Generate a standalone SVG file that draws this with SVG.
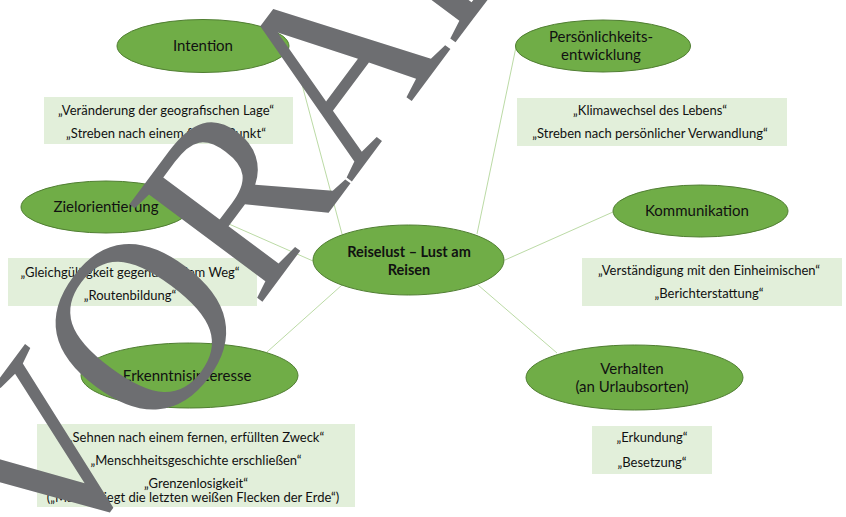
<svg xmlns="http://www.w3.org/2000/svg" width="846" height="517" viewBox="0 0 846 517">
<style>
.node ellipse{fill:#70ad47;stroke:#507e32;stroke-width:1}
.lbl{font-family:Lato,"Open Sans",sans-serif;font-size:15px;fill:#111;text-anchor:middle}
.main{font-family:Lato,"Open Sans",sans-serif;font-size:14.5px;font-weight:bold;fill:#111;text-anchor:middle}
.box rect{fill:#e2efda}
.bt{font-family:Lato,"Open Sans",sans-serif;font-size:13px;fill:#111;text-anchor:middle}
.conn line{stroke:#a9d18e;stroke-width:0.8}
.wm{font-family:"Liberation Serif","Times New Roman",serif;font-size:234px;fill:#6d6e71}
</style>
<rect width="846" height="517" fill="#fff"/>
<g class="conn" id="connectors">
<line x1="296" y1="62" x2="342" y2="234"/>
<line x1="516" y1="47" x2="477" y2="234"/>
<line x1="188" y1="206" x2="313" y2="261"/>
<line x1="267" y1="352" x2="342" y2="285"/>
<line x1="613" y1="212" x2="505" y2="260"/>
<line x1="478" y1="285" x2="557" y2="353"/>
</g>
<g class="box" id="box-intention"><rect x="44" y="97" width="249" height="47"/>
<text class="bt" x="166" y="115">„Veränderung der geografischen Lage“</text>
<text class="bt" x="166" y="138">„Streben nach einem fernen Punkt“</text></g>
<g class="box" id="box-persoenlichkeit"><rect x="517" y="98" width="270" height="48"/>
<text class="bt" x="650" y="115">„Klimawechsel des Lebens“</text>
<text class="bt" x="650" y="138">„Streben nach persönlicher Verwandlung“</text></g>
<g class="box" id="box-ziel"><rect x="8" y="258" width="249" height="48"/>
<text class="bt" x="130" y="277">„Gleichgültigkeit gegenüber dem Weg“</text>
<text class="bt" x="130" y="300">„Routenbildung“</text></g>
<g class="box" id="box-kommunikation"><rect x="582" y="258" width="260" height="48"/>
<text class="bt" x="709" y="275">„Verständigung mit den Einheimischen“</text>
<text class="bt" x="709" y="298">„Berichterstattung“</text></g>
<g class="box" id="box-erkenntnis"><rect x="37" y="424" width="318" height="83"/>
<text class="bt" x="196" y="442">„Sehnen nach einem fernen, erfüllten Zweck“</text>
<text class="bt" x="196" y="465">„Menschheitsgeschichte erschließen“</text>
<text class="bt" x="196" y="488">„Grenzenlosigkeit“</text>
<text class="bt" x="193" y="502">(„Man besiegt die letzten weißen Flecken der Erde“)</text></g>
<g class="box" id="box-verhalten"><rect x="592" y="426" width="120" height="48"/>
<text class="bt" x="652" y="442">„Erkundung“</text>
<text class="bt" x="652" y="467">„Besetzung“</text></g>
<g class="node" id="node-intention"><ellipse cx="203" cy="46" rx="86" ry="26.5"/><text class="lbl" x="203" y="51">Intention</text></g>
<g class="node" id="node-persoenlichkeit"><ellipse cx="603" cy="46" rx="87.5" ry="26"/><text class="lbl" x="601" y="42">Persönlichkeits-</text><text class="lbl" x="601" y="60">entwicklung</text></g>
<g class="node" id="node-ziel"><ellipse cx="106" cy="207" rx="85" ry="26"/><text class="lbl" x="106" y="212">Zielorientierung</text></g>
<g class="node" id="node-main"><ellipse cx="408.5" cy="260" rx="95.5" ry="35"/><text class="main" x="409" y="257">Reiselust – Lust am</text><text class="main" x="409" y="275">Reisen</text></g>
<g class="node" id="node-kommunikation"><ellipse cx="700.5" cy="211" rx="87.5" ry="26"/><text class="lbl" x="697" y="216">Kommunikation</text></g>
<g class="node" id="node-erkenntnis"><ellipse cx="189.5" cy="375.5" rx="108.5" ry="32.5"/><text class="lbl" x="187" y="381">Erkenntnisinteresse</text></g>
<g class="node" id="node-verhalten"><ellipse cx="634.5" cy="377.5" rx="108.5" ry="32.5"/><text class="lbl" x="632" y="374">Verhalten</text><text class="lbl" x="632" y="392">(an Urlaubsorten)</text></g>
<g id="watermark" transform="translate(353,180) rotate(-53.3) scale(1,1.075)">
<text class="wm" x="-494 -329 -160 -4 165" y="0">VORAB</text>
</g>
</svg>
